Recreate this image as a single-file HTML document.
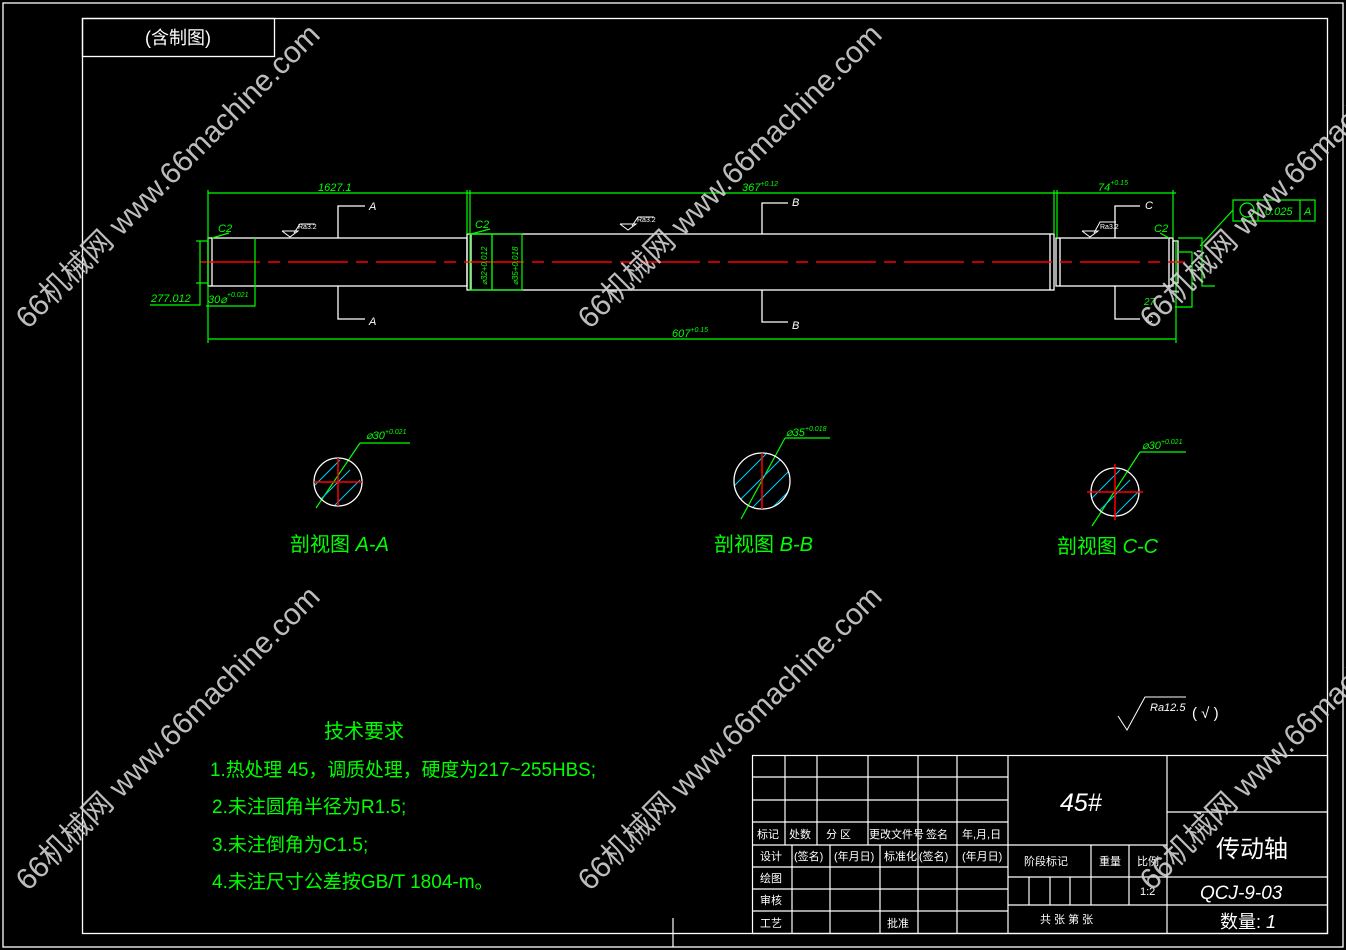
<!DOCTYPE html>
<html><head><meta charset="utf-8"><style>
html,body{margin:0;padding:0;background:#000;}
svg{display:block;}
text{font-family:"Liberation Sans","Noto Sans CJK SC",sans-serif;}
</style></head><body>
<svg width="1346" height="950" viewBox="0 0 1346 950" xmlns="http://www.w3.org/2000/svg">
<rect width="1346" height="950" fill="#000"/>
<g fill="none" stroke="#fff" stroke-width="1.3">
<rect x="3" y="3" width="1340" height="944"/>
<rect x="82.5" y="18.5" width="1245" height="915"/>
<rect x="82.5" y="18.5" width="192" height="38"/>
</g>
<text x="178" y="44" fill="#fff" font-size="18" text-anchor="middle">(含制图)</text>

<!-- shaft -->
<g fill="none" stroke="#fff" stroke-width="1.3">
<rect x="208" y="238" width="259" height="48"/>
<line x1="212" y1="238" x2="212" y2="286"/>
<rect x="467" y="234" width="587" height="56"/>
<line x1="471" y1="234" x2="471" y2="290"/>
<line x1="1050" y1="234" x2="1050" y2="290"/>
<rect x="1056" y="238" width="117" height="48"/>
<line x1="1060" y1="238" x2="1060" y2="286"/>
<line x1="1169" y1="238" x2="1169" y2="286"/>
<rect x="1173" y="241" width="5" height="42"/>
<polyline points="338,238 338,206 365,206"/>
<polyline points="338,286 338,319 365,319"/>
<polyline points="762,234 762,203 788,203"/>
<polyline points="762,290 762,322 788,322"/>
<polyline points="1115,238 1115,206 1140,206"/>
<polyline points="1115,286 1115,319 1140,319"/>
</g>
<g fill="#fff" font-size="11" font-style="italic">
<text x="369" y="210">A</text><text x="369" y="325">A</text>
<text x="792" y="206">B</text><text x="792" y="329">B</text>
<text x="1145" y="209">C</text><text x="1145" y="323">C</text>
</g>
<line x1="200" y1="262" x2="1185" y2="262" stroke="#f00" stroke-width="1.5" stroke-dasharray="60,8,12,8"/>
<g fill="none" stroke="#fff" stroke-width="1">
<polyline points="282,231 290,237 298,231 282,231"/><polyline points="294,233 300,224 315,224"/>
<polyline points="620,224 628,230 636,224 620,224"/><polyline points="632,226 638,217 654,217"/>
<polyline points="1082,231 1090,237 1098,231 1082,231"/><polyline points="1094,233 1100,222 1116,222"/>
<polyline points="1118,716 1127,730 1145,697 1186,697"/>
</g>
<g fill="#fff" font-size="7"><text x="298" y="229">Ra3.2</text><text x="637" y="222">Ra3.2</text><text x="1100" y="229">Ra3.2</text></g>
<text x="1150" y="711" fill="#fff" font-size="11" font-style="italic">Ra12.5</text>
<text x="1192" y="718" fill="#fff" font-size="15">( √ )</text>

<g stroke="#0f0" stroke-width="1.2" fill="none">
<line x1="208" y1="193" x2="1176" y2="193"/>
<line x1="208" y1="339" x2="1176" y2="339"/>
<line x1="208" y1="190" x2="208" y2="343"/>
<line x1="467" y1="190" x2="467" y2="234"/><line x1="470" y1="190" x2="470" y2="234"/>
<line x1="1054" y1="190" x2="1054" y2="234"/><line x1="1057" y1="190" x2="1057" y2="238"/>
<line x1="1173" y1="190" x2="1173" y2="238"/>
<line x1="1176" y1="241" x2="1176" y2="343"/>
<line x1="196" y1="241" x2="208" y2="241"/><line x1="196" y1="283" x2="208" y2="283"/>
<polyline points="200,241 200,305 150,305"/>
<polyline points="255,238 255,306 206,306"/>
<line x1="212" y1="238" x2="229" y2="233"/>
<line x1="471" y1="234" x2="490" y2="229"/>
<line x1="1169" y1="238" x2="1160" y2="233"/>
<rect x="470" y="234" width="22" height="56"/>
<rect x="492" y="234" width="30" height="56"/>
<polyline points="1178,238 1202,238 1202,286 1215,286"/>
<polyline points="1178,252 1192,252 1192,307 1175,307"/>
<rect x="1233" y="200" width="82" height="21"/>
<line x1="1258" y1="200" x2="1258" y2="221"/><line x1="1300" y1="200" x2="1300" y2="221"/>
<line x1="1233" y1="210" x2="1200" y2="246"/>
<line x1="316" y1="508" x2="360" y2="443"/><line x1="360" y1="443" x2="410" y2="443"/>
<line x1="741" y1="519" x2="785" y2="438"/><line x1="785" y1="438" x2="830" y2="438"/>
<line x1="1092" y1="526" x2="1140" y2="452"/><line x1="1140" y1="452" x2="1186" y2="452"/>
</g>
<circle cx="1247" cy="210" r="7" stroke="#0f0" fill="none" stroke-width="1.2"/>
<g fill="#0f0" font-style="italic">
<text x="318" y="191" font-size="11">1627.1</text>
<text x="742" y="191" font-size="11">367<tspan font-size="7" dy="-5">+0.12</tspan></text>
<text x="1098" y="191" font-size="11">74<tspan font-size="7" dy="-6">+0.15</tspan></text>
<text x="672" y="337" font-size="11">607<tspan font-size="7" dy="-5">+0.15</tspan></text>
<text x="151" y="302" font-size="11">277.012</text>
<text x="208" y="303" font-size="11">30⌀<tspan font-size="7" dy="-6">+0.021</tspan></text>
<text x="218" y="232" font-size="11">C2</text>
<text x="475" y="228" font-size="11">C2</text>
<text x="1154" y="232" font-size="11">C2</text>
<text x="1265" y="215" font-size="11">0.025</text>
<text x="1304" y="215" font-size="11">A</text>
<text x="1144" y="305" font-size="10">27</text>
<text x="366" y="439" font-size="11">⌀30<tspan font-size="7" dy="-5">+0.021</tspan></text>
<text x="786" y="436" font-size="11">⌀35<tspan font-size="7" dy="-5">+0.018</tspan></text>
<text x="1142" y="449" font-size="11">⌀30<tspan font-size="7" dy="-5">+0.021</tspan></text>
<text transform="translate(487,285) rotate(-90)" font-size="8">⌀32+0.012</text>
<text transform="translate(518,285) rotate(-90)" font-size="8">⌀35+0.018</text>
</g>

<defs>
<clipPath id="ca"><circle cx="338" cy="482" r="24"/></clipPath>
<clipPath id="cb"><circle cx="762" cy="481" r="28"/></clipPath>
<clipPath id="cc"><circle cx="1115" cy="492" r="24"/></clipPath>
</defs>
<g stroke="#0cf" stroke-width="1">
<g clip-path="url(#ca)"><path d="M300,500 l40,-40 M310,510 l40,-40 M320,520 l40,-40 M290,490 l40,-40 M330,530 l40,-40"/></g>
<g clip-path="url(#cb)"><path d="M720,500 l50,-50 M730,510 l50,-50 M740,520 l50,-50 M750,530 l50,-50 M710,490 l50,-50 M760,540 l50,-50"/></g>
<g clip-path="url(#cc)"><path d="M1080,510 l40,-40 M1090,520 l40,-40 M1100,530 l40,-40 M1070,500 l40,-40 M1110,540 l40,-40"/></g>
</g>
<g fill="none" stroke="#fff" stroke-width="1.3">
<circle cx="338" cy="482" r="24"/><circle cx="762" cy="481" r="28"/><circle cx="1115" cy="492" r="24"/>
</g>
<g stroke="#f00" stroke-width="1.5">
<line x1="314" y1="482" x2="362" y2="482"/><line x1="338" y1="458" x2="338" y2="506"/>
<line x1="762" y1="453" x2="762" y2="509"/>
<line x1="1087" y1="492" x2="1143" y2="492"/><line x1="1115" y1="464" x2="1115" y2="520"/>
</g>
<g fill="#0f0" font-size="20">
<text x="290" y="551">剖视图 <tspan font-style="italic">A-A</tspan></text>
<text x="714" y="551">剖视图 <tspan font-style="italic">B-B</tspan></text>
<text x="1057" y="553">剖视图 <tspan font-style="italic">C-C</tspan></text>
<text x="324" y="738">技术要求</text>
</g>
<g fill="#0f0" font-size="19">
<text x="210" y="776" textLength="386" lengthAdjust="spacingAndGlyphs">1.热处理 45，调质处理，硬度为217~255HBS;</text>
<text x="212" y="813">2.未注圆角半径为R1.5;</text>
<text x="212" y="851">3.未注倒角为C1.5;</text>
<text x="212" y="888">4.未注尺寸公差按GB/T 1804-m。</text>
</g>

<g fill="none" stroke="#fff" stroke-width="1.2">
<rect x="752.5" y="755.5" width="575" height="178"/>
<line x1="752" y1="777" x2="1008" y2="777"/>
<line x1="752" y1="800" x2="1008" y2="800"/>
<line x1="752" y1="822" x2="1008" y2="822"/>
<line x1="752" y1="845" x2="1167" y2="845"/>
<line x1="752" y1="867" x2="1008" y2="867"/>
<line x1="752" y1="889" x2="1008" y2="889"/>
<line x1="752" y1="911" x2="1008" y2="911"/>
<line x1="785" y1="755" x2="785" y2="845"/>
<line x1="817" y1="755" x2="817" y2="845"/>
<line x1="868" y1="755" x2="868" y2="845"/>
<line x1="918" y1="755" x2="918" y2="933"/>
<line x1="957" y1="755" x2="957" y2="933"/>
<line x1="1008" y1="755" x2="1008" y2="933"/>
<line x1="792" y1="845" x2="792" y2="933"/>
<line x1="830" y1="845" x2="830" y2="933"/>
<line x1="880" y1="845" x2="880" y2="933"/>
<line x1="1167" y1="755" x2="1167" y2="933"/>
<line x1="1008" y1="877" x2="1327" y2="877"/>
<line x1="1008" y1="905" x2="1327" y2="905"/>
<line x1="1167" y1="812" x2="1327" y2="812"/>
<line x1="1091" y1="845" x2="1091" y2="905"/>
<line x1="1129" y1="845" x2="1129" y2="905"/>
<line x1="1029" y1="877" x2="1029" y2="905"/>
<line x1="1050" y1="877" x2="1050" y2="905"/>
<line x1="1070" y1="877" x2="1070" y2="905"/>
<line x1="673" y1="918" x2="673" y2="947"/>
</g>
<g fill="#fff" font-size="11">
<text x="757" y="838">标记</text><text x="789" y="838">处数</text><text x="826" y="838">分 区</text>
<text x="869" y="838">更改文件号</text><text x="926" y="838">签名</text><text x="962" y="838">年,月,日</text>
<text x="760" y="860">设计</text><text x="794" y="860">(签名)</text><text x="834" y="860">(年月日)</text>
<text x="884" y="860">标准化</text><text x="919" y="860">(签名)</text><text x="962" y="860">(年月日)</text>
<text x="760" y="882">绘图</text><text x="760" y="904">审核</text><text x="760" y="927">工艺</text>
<text x="887" y="927">批准</text>
<text x="1024" y="865">阶段标记</text><text x="1099" y="865">重量</text><text x="1137" y="865">比例</text>
<text x="1140" y="895">1:2</text>
<text x="1040" y="923">共  张    第  张</text>
</g>
<text x="1060" y="811" fill="#fff" font-size="25" font-style="italic">45#</text>
<text x="1216" y="857" fill="#fff" font-size="24">传动轴</text>
<text x="1200" y="899" fill="#fff" font-size="19" font-style="italic">QCJ-9-03</text>
<text x="1220" y="928" fill="#fff" font-size="18">数量: <tspan font-style="italic">1</tspan></text>

<g fill="#d0d0d0" fill-opacity="0.9" font-size="30" font-family="Liberation Sans, Noto Sans CJK SC, sans-serif">
<text transform="translate(28,330) rotate(-45)">66机械网 www.66machine.com</text>
<text transform="translate(590,330) rotate(-45)">66机械网 www.66machine.com</text>
<text transform="translate(1152,330) rotate(-45)">66机械网 www.66machine.com</text>
<text transform="translate(28,892) rotate(-45)">66机械网 www.66machine.com</text>
<text transform="translate(590,892) rotate(-45)">66机械网 www.66machine.com</text>
<text transform="translate(1152,892) rotate(-45)">66机械网 www.66machine.com</text>
</g>
</svg>
</body></html>
